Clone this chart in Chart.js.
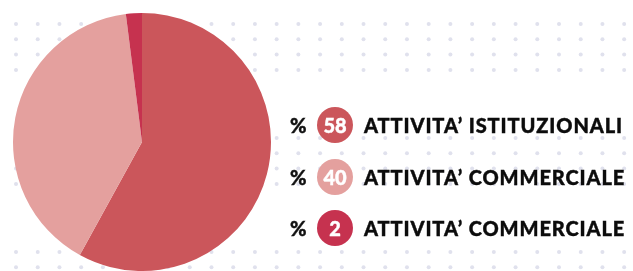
<!DOCTYPE html>
<html lang="it">
<head>
<meta charset="utf-8">
<script src="https://cdn.jsdelivr.net/npm/chart.js@4"></script>
<style>
  html, body { margin: 0; padding: 0; background: #fff; }
  #wrap { position: relative; width: 633px; height: 271px; overflow: hidden; }
  #pie { position: absolute; left: 0; top: 0; }
  #legend { position: absolute; left: 290px; top: 107px; font-family: "Lato", "Open Sans", sans-serif; font-weight: 900; }
  .row { display: flex; align-items: center; height: 36px; margin-bottom: 15.5px; }
  .pct { width: 27px; font-size: 20px; color: #111; -webkit-text-stroke: 0.4px #111; }
  .badge { width: 36px; height: 36px; border-radius: 50%; color: #fff; font-size: 20px;
           display: flex; align-items: center; justify-content: center; margin-right: 11px;
           -webkit-text-stroke: 0.4px #fff; }
  .lab { font-size: 20px; color: #0c0c0c; letter-spacing: 0.9px; -webkit-text-stroke: 0.4px #0c0c0c; }
</style>
</head>
<body>
<div id="wrap">
  <canvas id="pie" width="633" height="271"></canvas>
  <div id="legend"></div>
</div>
<script>
"use strict";
// --- dati ---------------------------------------------------------------------
const LABELS = ["ATTIVITA’ ISTITUZIONALI", "ATTIVITA’ COMMERCIALE", "ATTIVITA’ COMMERCIALE"];
const VALUES = [58, 40, 2];
const COLORS = ["#cb565b", "#e4a09e", "#c6324f"];

// --- sfondo a puntini ---------------------------------------------------------
const dotsBg = {
  id: "dotsBg",
  beforeDatasetsDraw(chart) {
    const ctx = chart.ctx;
    ctx.save();
    ctx.fillStyle = "#e0e1ed";
    for (let b = 0; b < 3; b++) {
      for (let j = 0; j < 4; j++) {
        const y = 24 + b * 114 + j * 15.3;
        for (let i = 0; i < 29; i++) {
          ctx.beginPath();
          ctx.arc(16 + i * 21.72, y, 2, 0, Math.PI * 2);
          ctx.fill();
        }
      }
    }
    ctx.restore();
  }
};

new Chart(document.getElementById("pie"), {
  type: "pie",
  data: {
    labels: LABELS,
    datasets: [{ data: VALUES, backgroundColor: COLORS, borderWidth: 0 }]
  },
  options: {
    responsive: false,
    animation: false,
    layout: { padding: { left: 13, top: 13, right: 362, bottom: 0 } },
    plugins: { legend: { display: false }, tooltip: { enabled: false } }
  },
  plugins: [dotsBg]
});

// --- legenda ------------------------------------------------------------------
const leg = document.getElementById("legend");
LABELS.forEach((l, i) => {
  leg.insertAdjacentHTML("beforeend", `
    <div class="row">
      <span class="pct">%</span>
      <span class="badge" style="background:${COLORS[i]}">${VALUES[i]}</span>
      <span class="lab">${l}</span>
    </div>`);
});
</script>
</body>
</html>
